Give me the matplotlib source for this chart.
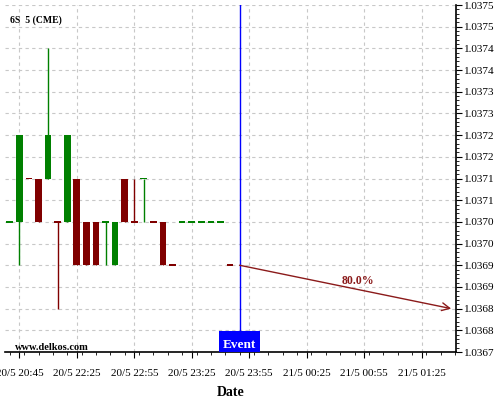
#!/usr/bin/env python3

import matplotlib
matplotlib.use("Agg")
import matplotlib.pyplot as plt
from matplotlib.ticker import FixedLocator, MultipleLocator, AutoMinorLocator
from matplotlib.patches import Rectangle
import matplotlib.transforms as mtransforms

# 5 min candles (index based x axis)
abre = [1.0370, 1.0370, 1.0371, 1.0371, 1.0371, 1.0370, 1.0370, 1.0371, 1.0370, 1.0370, 1.0370, 1.0369,
        1.0371, 1.0370, 1.0371, 1.0370, 1.0370, 1.0369, 1.0370, 1.0370, 1.0370, 1.0370, 1.0370, 1.0369]
maximo = [1.0370, 1.0372, 1.0371, 1.0371, 1.0374, 1.0370, 1.0372, 1.0371, 1.0370, 1.0370, 1.0370, 1.0370,
          1.0371, 1.0371, 1.0371, 1.0370, 1.0370, 1.0369, 1.0370, 1.0370, 1.0370, 1.0370, 1.0370, 1.0369]
minimo = [1.0370, 1.0369, 1.0371, 1.0370, 1.0371, 1.0368, 1.0370, 1.0369, 1.0369, 1.0369, 1.0369, 1.0369,
          1.0370, 1.0370, 1.0370, 1.0370, 1.0369, 1.0369, 1.0370, 1.0370, 1.0370, 1.0370, 1.0370, 1.0369]
cierre = [1.0370, 1.0372, 1.0371, 1.0370, 1.0372, 1.0370, 1.0372, 1.0369, 1.0369, 1.0369, 1.0370, 1.0370,
          1.0370, 1.0370, 1.0371, 1.0370, 1.0369, 1.0369, 1.0370, 1.0370, 1.0370, 1.0370, 1.0370, 1.0369]
sube = [1, 1, 0, 0, 1, 0, 1, 0, 0, 0, 1, 1, 0, 0, 1, 0, 0, 0, 1, 1, 1, 1, 1, 0]

etiquetas_x = ["20/5 20:45", "20/5 22:25", "20/5 22:55", "20/5 23:25",
               "20/5 23:55", "21/5 00:25", "21/5 00:55", "21/5 01:25"]
posiciones_x = [1, 7, 13, 19, 25, 31, 37, 43]

ticks_y = [1.0367 + 0.00005 * k for k in range(17)]
etiquetas_y = ["1.0367", "1.0368", "1.0368", "1.0369", "1.0369", "1.0370", "1.0370", "1.0371", "1.0371",
               "1.0372", "1.0372", "1.0373", "1.0373", "1.0374", "1.0374", "1.0375", "1.0375"]

evento_x = 24
flecha_inicio = (24, 1.0369)
flecha_fin = (46.1, 1.0368)
probabilidad = "80.0%"

VERDE = "#008000"
ROJO = "#800000"
FLECHA = "#8b1a1a"

plt.rcParams['font.family'] = ['Liberation Serif', 'DejaVu Serif']

fig = plt.figure(figsize=(5, 4), dpi=100)
ax = fig.add_axes([0.01, 0.12, 0.902, 0.8675])

ancho = 0.7
minimo_alto = 0.0000045
for i in range(len(abre)):
	color = VERDE if sube[i] else ROJO
	ax.vlines(i, minimo[i], maximo[i], color=color, linewidth=1, zorder=3)
	base = min(abre[i], cierre[i])
	alto = abs(cierre[i] - abre[i])
	if alto < minimo_alto:
		base = base - minimo_alto / 2
		alto = minimo_alto
	ax.bar(i, alto, bottom=base, width=ancho, color=color, linewidth=0, zorder=4)

# evento
ax.axvline(evento_x, color="#0000ff", linewidth=1, zorder=5)
trans = mtransforms.blended_transform_factory(ax.transData, ax.transAxes)
ax.add_patch(Rectangle((evento_x - 2.15, 0.0), 4.3, 0.061, transform=trans,
                       facecolor="#0000ff", edgecolor="none", clip_on=False, zorder=6))
ax.text(evento_x, 0.02, "Event", transform=trans, ha="center", va="center",
        color="white", fontsize=9.5, fontweight="bold", zorder=7)

# flecha de prediccion
ax.annotate("", xy=flecha_fin, xytext=flecha_inicio,
            arrowprops=dict(arrowstyle="->", color=FLECHA, lw=1, mutation_scale=14,
                            shrinkA=0, shrinkB=0), zorder=5)
ax.text(36.4, 1.036863, probabilidad, color=FLECHA, fontsize=8.5, fontweight="bold",
        ha="center", va="center", zorder=6)

ax.set_xlim(-0.5, 46.6)
ax.set_ylim(1.0367, 1.0375)

ax.xaxis.set_major_locator(FixedLocator(posiciones_x))
ax.set_xticklabels(etiquetas_x, fontsize=8)
ax.xaxis.set_minor_locator(MultipleLocator(1.5))
ax.yaxis.tick_right()
ax.yaxis.set_major_locator(FixedLocator(ticks_y))
ax.set_yticklabels(etiquetas_y, fontsize=8)
ax.yaxis.set_minor_locator(AutoMinorLocator(5))
ax.tick_params(axis="both", which="major", length=4, width=0.8, pad=2)
ax.tick_params(axis="x", which="major", pad=8)
ax.tick_params(axis="both", which="minor", length=2, width=0.6)

ax.grid(True, which="major", color="#c8c8c8", linestyle=(0, (3, 3)), linewidth=0.8)
ax.set_axisbelow(True)

for lado in ["left", "top"]:
	ax.spines[lado].set_visible(False)
ax.spines["right"].set_linewidth(1.2)
ax.spines["bottom"].set_linewidth(1.2)

ax.set_xlabel("Date", fontsize=10, fontweight="bold", labelpad=6)
ax.text(0.012, 0.955, "6S  5 (CME)", transform=ax.transAxes, fontsize=7, fontweight="bold",
        ha="left", va="center")
ax.text(0.022, 0.007, "www.delkos.com", transform=ax.transAxes, fontsize=7.5, fontweight="bold",
        ha="left", va="baseline")

fig.savefig("out.png", dpi=100)
